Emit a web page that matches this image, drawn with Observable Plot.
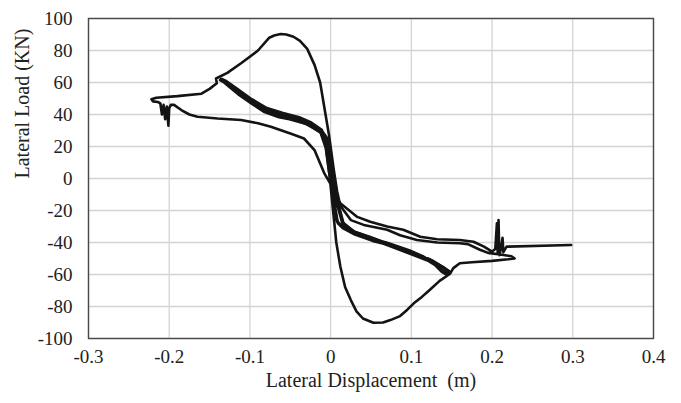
<!DOCTYPE html>
<html><head><meta charset="utf-8">
<script src="https://cdn.jsdelivr.net/npm/d3@7"></script>
<script src="https://cdn.jsdelivr.net/npm/@observablehq/plot@0.6"></script>
<style>
body{margin:0;background:#fff;}
#chart svg{display:block;}
#chart svg, #chart svg text{font-family:'Liberation Serif','Times New Roman',serif !important;}
#chart svg [aria-label$="tick label"] text{font-size:19px !important;fill:#222;}
</style>
</head><body><div id="chart"></div>
<script>
const xTicks = [-0.3, -0.2, -0.1, 0, 0.1, 0.2, 0.3, 0.4];
const yTicks = [-100, -80, -60, -40, -20, 0, 20, 40, 60, 80, 100];
const xLabel = "Lateral Displacement\u00a0 (m)";
const yLabel = "Lateral Load (KN)";

// repeated small cycles (displacement m, load kN)
const cycle1 = [[0.002,-5],[0.005,-18],[0.008,-27],[0.014,-30],[0.029,-34],[0.05,-38],[0.07,-40.5],[0.099,-45.7],[0.115,-49],[0.128,-53],[0.136,-57],[0.142,-59.3],[0.148,-58.3],[0.14,-55.5],[0.125,-51],[0.1,-46.5],[0.075,-41.5],[0.05,-37],[0.03,-33.5],[0.016,-28],[0.009,-15],[0.004,0],[0,14],[-0.005,24],[-0.012,29.5],[-0.029,34.5],[-0.05,37.5],[-0.062,38.8],[-0.08,42],[-0.095,47],[-0.111,52.5],[-0.124,57.5],[-0.132,61],[-0.136,62],[-0.13,60.3],[-0.118,56],[-0.1,49.5],[-0.08,43.5],[-0.06,40.5],[-0.04,37.8],[-0.025,34.5],[-0.012,30],[-0.005,20],[-0.001,5],[0.002,-5]];
const cycle2 = [[0.003,-6],[0.006,-19],[0.009,-28],[0.015,-31],[0.03,-35],[0.052,-39],[0.072,-41.5],[0.1,-46.5],[0.116,-50],[0.129,-54],[0.137,-58],[0.143,-60],[0.147,-59],[0.139,-56],[0.124,-52],[0.1,-47.3],[0.074,-42.3],[0.05,-37.8],[0.029,-34.2],[0.015,-29],[0.008,-16],[0.003,-1],[-0.001,13],[-0.006,23.5],[-0.013,29],[-0.03,34],[-0.051,37],[-0.064,38.3],[-0.082,41.5],[-0.097,46.5],[-0.113,52],[-0.125,57],[-0.133,60.5],[-0.137,61.5],[-0.131,59.8],[-0.119,55.5],[-0.101,49],[-0.081,43],[-0.061,40],[-0.041,37.2],[-0.026,34],[-0.013,29.5],[-0.006,19],[-0.002,4],[0.003,-6]];
const cycle3 = [[0.001,-4],[0.004,-17],[0.007,-26],[0.013,-29.5],[0.028,-33.5],[0.049,-37.3],[0.069,-40],[0.098,-45],[0.114,-48.5],[0.127,-52.5],[0.135,-56.5],[0.141,-58.8],[0.146,-58],[0.138,-55],[0.123,-50.5],[0.099,-46],[0.073,-41],[0.049,-36.5],[0.028,-33],[0.015,-27.5],[0.008,-14],[0.003,1],[-0.001,15],[-0.004,25],[-0.011,30],[-0.028,35],[-0.049,38],[-0.061,39.3],[-0.079,42.6],[-0.094,47.6],[-0.11,53],[-0.123,58],[-0.131,61.3],[-0.135,62.3],[-0.129,60.8],[-0.117,56.5],[-0.099,50],[-0.079,44],[-0.059,41],[-0.039,38.3],[-0.024,35],[-0.011,30.5],[-0.004,21],[0,6],[0.001,-4]];

// final large excursion
const envelope = [[-0.136,62],[-0.128,59],[-0.115,54],[-0.1,48.5],[-0.08,42.5],[-0.062,39],[-0.04,36],[-0.025,33],[-0.012,28.5],[-0.006,20],[-0.002,5],[0.001,-10],[0.004,-25],[0.007,-40],[0.012,-55],[0.018,-68],[0.025,-76],[0.032,-83],[0.04,-87.5],[0.053,-90.2],[0.065,-90],[0.074,-88.5],[0.086,-86],[0.095,-82],[0.103,-78],[0.113,-74],[0.123,-69.5],[0.135,-64],[0.148,-59.5],[0.152,-56],[0.16,-53],[0.175,-52.3],[0.2,-51.5],[0.22,-50.5],[0.228,-50],[0.224,-48.6],[0.21,-47.5],[0.195,-46.5],[0.185,-44.5],[0.17,-41],[0.16,-40.5],[0.132,-40],[0.107,-38.4],[0.086,-35.5],[0.07,-32],[0.041,-29],[0.025,-26],[0.012,-17],[0.008,-8],[0.004,5],[-0.002,27],[-0.008,45],[-0.013,60],[-0.02,71],[-0.029,81],[-0.038,86],[-0.046,88.6],[-0.055,90],[-0.062,90.3],[-0.07,89.4],[-0.076,88],[-0.09,80],[-0.111,72],[-0.128,66],[-0.142,62.5],[-0.141,59.5],[-0.15,56],[-0.16,53],[-0.19,51.5],[-0.216,50.5],[-0.222,49.5],[-0.22,48.2],[-0.214,47.8],[-0.211,47],[-0.209,40],[-0.207,46],[-0.205,37],[-0.203,45],[-0.201,33],[-0.2,44],[-0.198,46],[-0.194,46],[-0.185,42.8],[-0.175,40],[-0.165,38.6],[-0.14,37.5],[-0.111,36.6],[-0.09,34.5],[-0.074,32.4],[-0.049,28],[-0.033,25],[-0.02,17.8],[-0.008,3.4],[0.004,-7],[0.012,-15.5],[0.033,-24],[0.049,-27],[0.07,-30],[0.09,-32],[0.111,-36.4],[0.132,-38],[0.16,-38.4],[0.177,-39.5],[0.19,-42.6],[0.2,-45.7],[0.204,-44],[0.206,-28],[0.207,-47],[0.208,-26],[0.209,-48],[0.211,-44],[0.213,-37],[0.214,-46],[0.218,-42.6],[0.298,-41.6]];

const paths = {cycle1, cycle2, cycle3, envelope};
const rows = Object.entries(paths).flatMap(([k, pts]) => pts.map(([x, y]) => ({x, y, k})));

const serif = "'Liberation Serif', 'Times New Roman', serif";
const fmt = d => String(d);
const plot = Plot.plot({
  width: 681, height: 403,
  marginLeft: 88, marginRight: 28, marginTop: 18, marginBottom: 65,
  style: "font-family: 'Liberation Serif', serif; font-size: 19px; color: #222; background: #fff;",
  x: {domain: [-0.3, 0.4]},
  y: {domain: [-100, 100]},
  marks: [
    Plot.gridX(xTicks, {stroke: "#d4d4d4", strokeOpacity: 1, strokeWidth: 1.3}),
    Plot.gridY(yTicks, {stroke: "#d4d4d4", strokeOpacity: 1, strokeWidth: 1.3}),
    Plot.frame({stroke: "#4a4a4a", strokeWidth: 1.4}),
    Plot.axisX(xTicks, {tickSize: 0, tickPadding: 11, tickFormat: fmt, label: null, fontSize: 19, fontFamily: serif}),
    Plot.axisY(yTicks, {tickSize: 0, tickPadding: 16, tickFormat: fmt, label: null, fontSize: 19, fontFamily: serif}),
    Plot.line(rows, {x: "x", y: "y", z: "k", stroke: "#141414", strokeWidth: 2.6, strokeLinejoin: "round", strokeLinecap: "round"}),
    Plot.text([xLabel], {text: d => d, frameAnchor: "bottom", dy: 48, fontSize: 20, fontFamily: serif, fill: "#222"}),
    Plot.text([yLabel], {text: d => d, frameAnchor: "left", dx: -66, rotate: -90, fontSize: 20, fontFamily: serif, fill: "#222"})
  ]
});
document.getElementById("chart").appendChild(plot);
</script>
</body></html>
